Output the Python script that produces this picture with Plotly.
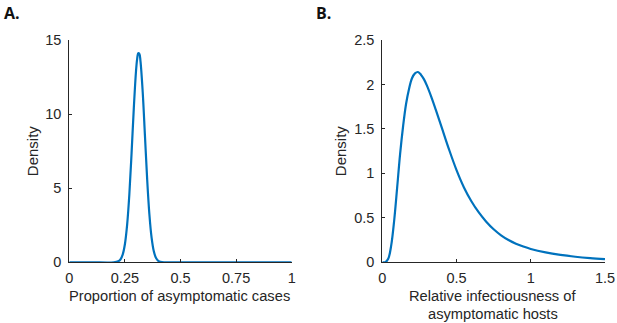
import plotly.graph_objects as go

# Panel A: proportion of asymptomatic cases (density)
a_x = [0.0, 0.10, 0.20, 0.22, 0.23, 0.24, 0.25, 0.26, 0.27, 0.28, 0.29, 0.30,
       0.305, 0.31, 0.315, 0.32, 0.33, 0.34, 0.35, 0.36, 0.37, 0.38, 0.39, 0.40,
       0.41, 0.43, 0.50, 0.75, 1.0]
a_y = [0.0, 0.0, 0.0, 0.064, 0.19, 0.52, 1.22, 2.52, 4.59, 7.37, 10.39, 12.91,
       13.71, 14.11, 14.07, 13.58, 11.51, 8.58, 5.63, 3.26, 1.66, 0.74, 0.29, 0.10,
       0.03, 0.0, 0.0, 0.0, 0.0]

# Panel B: relative infectiousness of asymptomatic hosts
b_x = [0.0, 0.02, 0.04, 0.06, 0.08, 0.10, 0.12, 0.14, 0.16, 0.18, 0.20, 0.22,
       0.24, 0.26, 0.28, 0.30, 0.33, 0.36, 0.40, 0.45, 0.50, 0.55, 0.60, 0.65,
       0.70, 0.75, 0.80, 0.85, 0.90, 0.95, 1.00, 1.10, 1.20, 1.30, 1.40, 1.50]
b_y = [0.0, 0.002, 0.04, 0.19, 0.47, 0.84, 1.22, 1.53, 1.78, 1.95, 2.07, 2.125,
       2.14, 2.11, 2.06, 1.99, 1.861, 1.717, 1.517, 1.267, 1.037, 0.842, 0.687, 0.561,
       0.457, 0.372, 0.304, 0.251, 0.2095, 0.177, 0.150, 0.111, 0.083, 0.0626, 0.0476, 0.0363]

a_xticks = [0, 0.25, 0.5, 0.75, 1]
a_xticktext = ["0", "0.25", "0.5", "0.75", "1"]
a_yticks = [0, 5, 10, 15]
b_xticks = [0, 0.5, 1, 1.5]
b_xticktext = ["0", "0.5", "1", "1.5"]
b_yticks = [0, 0.5, 1, 1.5, 2, 2.5]
b_yticktext = ["0", "0.5", "1", "1.5", "2", "2.5"]

W, H = 617, 323
LINE = "#0072BD"
AX = "#262626"
FONT = "Liberation Sans, Arial, Helvetica, sans-serif"
TICK_SIZE = 14.5

fig = go.Figure()
fig.add_trace(go.Scatter(x=a_x, y=a_y, mode="lines", xaxis="x", yaxis="y",
                         line=dict(color=LINE, width=2.2, shape="spline", smoothing=1.0),
                         showlegend=False, hoverinfo="skip"))
fig.add_trace(go.Scatter(x=b_x, y=b_y, mode="lines", xaxis="x2", yaxis="y2",
                         line=dict(color=LINE, width=2.2, shape="spline", smoothing=1.0),
                         showlegend=False, hoverinfo="skip"))

ydom = [60.7 / H, 283.0 / H]
common = dict(showgrid=False, zeroline=False, showline=True, linecolor=AX, linewidth=1,
              ticks="inside", ticklen=3, tickcolor=AX, tickwidth=1,
              ticklabeloverflow="allow", automargin=False,
              tickfont=dict(family=FONT, size=TICK_SIZE, color=AX), mirror=False)
ytitle = dict(text="Density", font=dict(family=FONT, size=15, color=AX), standoff=3)

fig.update_layout(
    width=W, height=H,
    margin=dict(l=0, r=0, t=0, b=0),
    paper_bgcolor="white", plot_bgcolor="white",
    font=dict(family=FONT, color=AX),
    xaxis=dict(domain=[69.3 / W, 291.7 / W], range=[0, 1], anchor="y",
               tickvals=a_xticks, ticktext=a_xticktext, ticklabelstandoff=2, **common),
    yaxis=dict(domain=ydom, range=[0, 15], anchor="x", title=ytitle,
               tickvals=a_yticks, ticklabelstandoff=4, **common),
    xaxis2=dict(domain=[382.3 / W, 605.0 / W], range=[0, 1.5], anchor="y2",
                tickvals=b_xticks, ticktext=b_xticktext, ticklabelstandoff=2, **common),
    yaxis2=dict(domain=ydom, range=[0, 2.5], anchor="x2", title=ytitle,
                tickvals=b_yticks, ticktext=b_yticktext, ticklabelstandoff=4, **common),
)

ann = []
def add_text(x, y, text, size=TICK_SIZE, angle=0, xanchor="center", yanchor="middle",
             family=FONT, color=AX):
    ann.append(dict(x=x / W, y=1 - y / H, xref="paper", yref="paper", text=text,
                    showarrow=False, textangle=angle, xanchor=xanchor, yanchor=yanchor,
                    font=dict(family=family, size=size, color=color)))

add_text(2, 13, "<b>A.</b>", size=16, xanchor="left", family="Open Sans, sans-serif", color="#111111")
add_text(314, 13, "<b>B.</b>", size=16, xanchor="left", family="Open Sans, sans-serif", color="#111111")
add_text(179, 296, "Proportion of asymptomatic cases", size=14.7)
add_text(493, 296, "Relative infectiousness of", size=14.7)
add_text(493, 314, "asymptomatic hosts", size=14.7)
fig.update_layout(annotations=ann)

fig.write_html(
    "out.html", config={"displayModeBar": False},
    post_script=("document.documentElement.style.margin='0';"
                 "document.documentElement.style.overflow='hidden';"
                 "document.body.style.margin='0';document.body.style.padding='0';"
                 "document.body.style.overflow='hidden';"))
